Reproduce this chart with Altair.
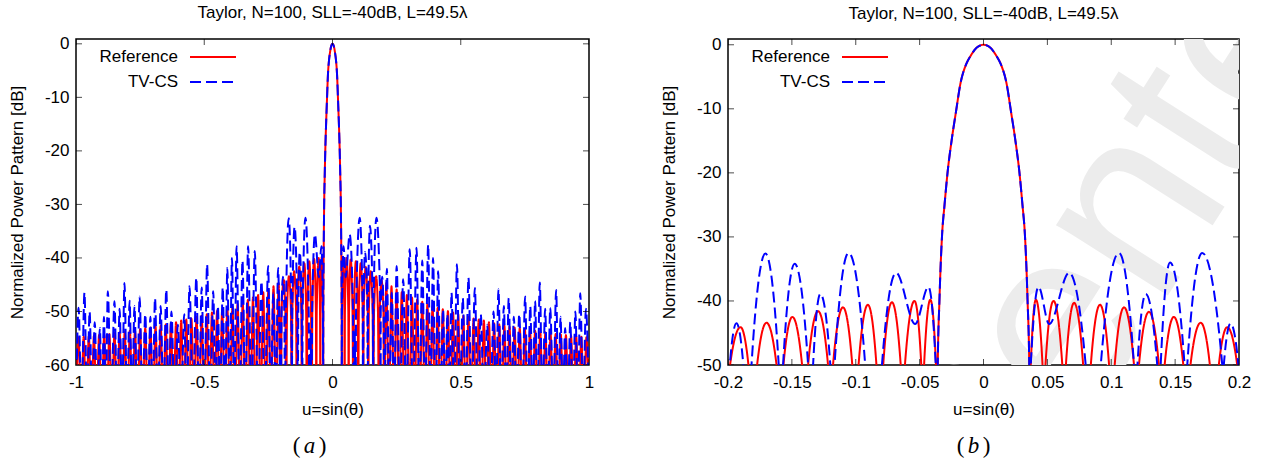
import altair as alt
import pandas as pd

# ---------------------------------------------------------------- data
TITLE = "Taylor, N=100, SLL=-40dB, L=49.5λ"
SERIES = ["Reference", "TV-CS"]
COLORS = ["#ff0000", "#0000ff"]
DASHES = [[1, 0], [11, 5]]
NULL_DB = -68.0  # depth used for pattern nulls (below both plotted ranges)
N = None         # marks a null of the pattern
WATERMARK = "Center"

# main beam (shared by both patterns, they coincide)
MAIN_U = [-0.0358, -0.0345, -0.0324, -0.0305, -0.028, -0.025, -0.0215, -0.018,
          -0.0137, -0.010, -0.005, 0.0, 0.005, 0.010, 0.0137, 0.018, 0.0215,
          0.025, 0.028, 0.0305, 0.0324, 0.0345, 0.0358]
MAIN_DB = [-50.0, -40.0, -29.6, -25.0, -19.7, -15.0, -10.4, -6.0, -3.1, -1.7,
           -0.4, 0.0, -0.4, -1.7, -3.1, -6.0, -10.4, -15.0, -19.7, -25.0, -29.6,
           -40.0, -50.0]

# Reference: near side lobes (|u| < 0.2)
REF_NEAR_R_U = [0.0362, 0.0370, 0.041, 0.0462, 0.0472, 0.0485, 0.0548, 0.0617,
                0.063, 0.0645, 0.0709, 0.0780, 0.081, 0.0840, 0.0912, 0.0983,
                0.1005, 0.1027, 0.110, 0.1178, 0.1198, 0.1217, 0.1295, 0.1373,
                0.1395, 0.1418, 0.149, 0.1564, 0.159, 0.162, 0.170, 0.1772,
                0.1805, 0.1842, 0.1908, 0.1986, 0.2005]
REF_NEAR_R_DB = [N, -50.0, -39.8, -50.0, N, -50.0, -40.0, -50.0,
                 N, -50.0, -40.3, -50.0, N, -50.0, -40.6, -50.0,
                 N, -50.0, -41.0, -50.0, N, -50.0, -41.7, -50.0,
                 N, -50.0, -42.5, -50.0, N, -50.0, -43.4, -50.0,
                 N, -50.0, -44.1, -50.0, N]
REF_NEAR_L_U = [-0.0362, -0.0372, -0.0416, -0.0465, -0.0474, -0.0487, -0.054,
                -0.0615, -0.063, -0.0648, -0.0717, -0.0785, -0.081, -0.0838,
                -0.0905, -0.0978, -0.1005, -0.1027, -0.110, -0.1178, -0.1198,
                -0.1217, -0.1295, -0.1373, -0.1395, -0.1420, -0.1496, -0.1566,
                -0.159, -0.1620, -0.1699, -0.1772, -0.1805, -0.1840, -0.1902,
                -0.1984, -0.2005]
REF_NEAR_L_DB = [N, -50.0, -39.8, -50.0, N, -50.0, -40.0,
                 -50.0, N, -50.0, -40.2, -50.0, N, -50.0,
                 -40.6, -50.0, N, -50.0, -41.0, -50.0, N,
                 -50.0, -41.6, -50.0, N, -50.0, -42.5, -50.0,
                 N, -50.0, -43.4, -50.0, N, -50.0, -44.1,
                 -50.0, N]

# Reference: far side lobes (peaks and nulls)
REF_FAR_R_U = [0.21, 0.23, 0.25, 0.27, 0.29, 0.31, 0.33, 0.35, 0.37, 0.39,
               0.41, 0.43, 0.45, 0.47, 0.49, 0.51, 0.53, 0.55, 0.57, 0.59,
               0.61, 0.63, 0.65, 0.67, 0.69, 0.71, 0.73, 0.75, 0.77, 0.79,
               0.81, 0.83, 0.85, 0.87, 0.89, 0.91, 0.93, 0.95, 0.97, 0.99]
REF_FAR_R_DB = [-44.7, -45.3, -45.9, -46.4, -46.9, -47.4, -47.8, -48.2, -48.6, -49.0,
                -49.3, -49.6, -49.9, -50.2, -50.5, -50.8, -51.0, -51.3, -51.5, -51.7,
                -52.0, -52.2, -52.4, -52.6, -52.8, -53.0, -53.1, -53.3, -53.5, -53.6,
                -53.8, -53.9, -54.0, -54.2, -54.3, -54.4, -54.5, -54.6, -54.7, -54.8]
REF_NULL_R_U = [0.22, 0.24, 0.26, 0.28, 0.30, 0.32, 0.34, 0.36, 0.38, 0.40,
                0.42, 0.44, 0.46, 0.48, 0.50, 0.52, 0.54, 0.56, 0.58, 0.60,
                0.62, 0.64, 0.66, 0.68, 0.70, 0.72, 0.74, 0.76, 0.78, 0.80,
                0.82, 0.84, 0.86, 0.88, 0.90, 0.92, 0.94, 0.96, 0.98, 1.00]
REF_FAR_L_U = [-0.21, -0.23, -0.25, -0.27, -0.29, -0.31, -0.33, -0.35, -0.37, -0.39,
               -0.41, -0.43, -0.45, -0.47, -0.49, -0.51, -0.53, -0.55, -0.57, -0.59,
               -0.61, -0.63, -0.65, -0.67, -0.69, -0.71, -0.73, -0.75, -0.77, -0.79,
               -0.81, -0.83, -0.85, -0.87, -0.89, -0.91, -0.93, -0.95, -0.97, -0.99]
REF_FAR_L_DB = [-44.7, -45.3, -45.9, -46.4, -46.9, -47.4, -47.8, -48.2, -48.6, -49.0,
                -49.3, -49.6, -49.9, -50.2, -50.5, -50.8, -51.0, -51.3, -51.5, -51.7,
                -52.0, -52.2, -52.4, -52.6, -52.8, -53.0, -53.1, -53.3, -53.5, -53.6,
                -53.8, -53.9, -54.0, -54.2, -54.3, -54.4, -54.5, -54.6, -54.7, -54.8]
REF_NULL_L_U = [-0.22, -0.24, -0.26, -0.28, -0.30, -0.32, -0.34, -0.36, -0.38, -0.40,
                -0.42, -0.44, -0.46, -0.48, -0.50, -0.52, -0.54, -0.56, -0.58, -0.60,
                -0.62, -0.64, -0.66, -0.68, -0.70, -0.72, -0.74, -0.76, -0.78, -0.80,
                -0.82, -0.84, -0.86, -0.88, -0.90, -0.92, -0.94, -0.96, -0.98, -1.00]

# TV-CS: near side lobes (|u| < 0.2)
TV_NEAR_R_U = [0.0362, 0.0370, 0.0431, 0.0514, 0.067, 0.0800, 0.0815, 0.0862,
               0.0905, 0.0918, 0.106, 0.1178, 0.119, 0.1205, 0.127, 0.1360,
               0.1373, 0.1387, 0.146, 0.1574, 0.1585, 0.1595, 0.1712, 0.1869,
               0.1875, 0.1881, 0.1934, 0.1995, 0.2015]
TV_NEAR_R_DB = [N, -50.0, -37.8, -43.6, -35.6, -50.0, N, -53.5,
                N, -50.0, -32.5, -50.0, N, -50.0, -38.9, -50.0,
                N, -50.0, -34.0, -50.0, N, -50.0, -32.5, -50.0,
                N, -50.0, -43.5, -50.0, N]
TV_NEAR_L_U = [-0.0362, -0.0374, -0.0431, -0.0535, -0.0684, -0.0795, -0.081, -0.086,
               -0.0905, -0.0926, -0.1056, -0.1166, -0.118, -0.1199, -0.1277, -0.1334,
               -0.1355, -0.1373, -0.1478, -0.1569, -0.1585, -0.1603, -0.1707, -0.1816,
               -0.185, -0.1880, -0.1934, -0.1986, -0.2015]
TV_NEAR_L_DB = [N, -50.0, -37.8, -43.6, -35.6, -50.0, N, -53.5,
                N, -50.0, -32.5, -50.0, N, -50.0, -38.9, -50.0,
                N, -50.0, -34.2, -50.0, N, -50.0, -32.6, -50.0,
                N, -50.0, -43.5, -50.0, N]

# TV-CS: far side lobes (peaks and nulls)
TV_FAR_R_U = [0.212, 0.231, 0.250, 0.2755, 0.301, 0.3275, 0.350, 0.373, 0.392, 0.412,
              0.431, 0.448, 0.464, 0.485, 0.508, 0.530, 0.555, 0.578, 0.603, 0.628,
              0.647, 0.668, 0.687, 0.707, 0.728, 0.751, 0.771, 0.790, 0.808, 0.829,
              0.849, 0.872, 0.889, 0.907, 0.927, 0.947, 0.966, 0.988]
TV_FAR_R_DB = [-42.0, -46.5, -41.5, -44.0, -38.4, -38.1, -40.5, -37.5, -40.0, -42.5,
               -49.6, -50.5, -46.5, -41.2, -47.5, -43.7, -45.6, -50.5, -52.5, -50.0,
               -45.8, -49.0, -47.5, -51.0, -50.5, -47.2, -49.0, -48.0, -44.6, -49.5,
               -49.3, -46.0, -51.0, -53.1, -52.0, -50.0, -46.6, -49.5]
TV_NULL_R_U = [0.2215, 0.2405, 0.263, 0.288, 0.314, 0.339, 0.361, 0.3825, 0.402, 0.4215,
               0.4395, 0.456, 0.4745, 0.4965, 0.519, 0.5425, 0.5665, 0.5905, 0.6155, 0.6375,
               0.6575, 0.6775, 0.697, 0.7175, 0.7395, 0.761, 0.7805, 0.799, 0.8185, 0.839,
               0.8605, 0.8805, 0.898, 0.917, 0.937, 0.9565, 0.977, 1.000]
TV_FAR_L_U = [-0.212, -0.231, -0.251, -0.277, -0.303, -0.329, -0.351, -0.374, -0.392, -0.410,
              -0.428, -0.447, -0.465, -0.489, -0.510, -0.531, -0.5575, -0.578, -0.603, -0.628,
              -0.648, -0.670, -0.692, -0.710, -0.730, -0.752, -0.772, -0.791, -0.811, -0.830,
              -0.850, -0.876, -0.891, -0.907, -0.927, -0.947, -0.967, -0.990]
TV_FAR_L_DB = [-41.9, -46.5, -41.5, -44.4, -38.7, -37.8, -40.5, -37.8, -40.0, -41.9,
               -45.5, -49.0, -46.2, -41.2, -45.5, -43.7, -45.3, -50.5, -52.5, -50.0,
               -45.9, -49.0, -47.5, -51.0, -50.5, -47.2, -49.0, -48.0, -44.7, -49.5,
               -48.1, -46.2, -51.0, -53.1, -52.0, -50.0, -46.5, -49.3]
TV_NULL_L_U = [-0.2215, -0.241, -0.264, -0.290, -0.316, -0.340, -0.362, -0.383, -0.401, -0.419,
               -0.4375, -0.456, -0.477, -0.4995, -0.5205, -0.544, -0.568, -0.5905, -0.6155, -0.638,
               -0.659, -0.681, -0.701, -0.720, -0.741, -0.762, -0.7815, -0.801, -0.8205, -0.840,
               -0.863, -0.8835, -0.899, -0.917, -0.937, -0.957, -0.9785, -1.000]

# axes
A_XDOM, A_YDOM = [-1.0, 1.0], [-60.0, 0.9]
B_XDOM, B_YDOM = [-0.2, 0.2], [-50.0, 0.9]
A_XTICKS = [-1, -0.5, 0, 0.5, 1]
A_YTICKS = [-60, -50, -40, -30, -20, -10, 0]
B_XTICKS = [-0.2, -0.15, -0.1, -0.05, 0, 0.05, 0.1, 0.15, 0.2]
B_YTICKS = [-50, -40, -30, -20, -10, 0]
X_TITLE = "u=sin(θ)"
Y_TITLE = "Normalized Power Pattern [dB]"
CAPTION_LETTERS = ["a", "b"]

FONT = "Liberation Sans"
SERIF = "Liberation Serif"
FS = 17


def build(name, parts):
    rows = []
    for us, dbs in parts:
        if dbs is None:
            dbs = [N] * len(us)
        for u, d in zip(us, dbs):
            rows.append({"u": u, "db": NULL_DB if d is None else d, "series": name})
    return pd.DataFrame(rows).sort_values("u").reset_index(drop=True)


ref = build("Reference", [(MAIN_U, MAIN_DB), (REF_NEAR_R_U, REF_NEAR_R_DB),
                          (REF_NEAR_L_U, REF_NEAR_L_DB), (REF_FAR_R_U, REF_FAR_R_DB),
                          (REF_FAR_L_U, REF_FAR_L_DB), (REF_NULL_R_U, None),
                          (REF_NULL_L_U, None)])
tv = build("TV-CS", [(MAIN_U, MAIN_DB), (TV_NEAR_R_U, TV_NEAR_R_DB),
                     (TV_NEAR_L_U, TV_NEAR_L_DB), (TV_FAR_R_U, TV_FAR_R_DB),
                     (TV_FAR_L_U, TV_FAR_L_DB), (TV_NULL_R_U, None),
                     (TV_NULL_L_U, None)])


def text_layer(label, x, y, font, size, style="normal", align="center",
               color="black", angle=0, clip=False):
    one = pd.DataFrame({"label": [label]})
    return alt.Chart(one).mark_text(align=align, baseline="middle", font=font,
                                    fontSize=size, fontStyle=style, angle=angle,
                                    clip=clip, color=color).encode(
        text="label:N", x=alt.value(x), y=alt.value(y))


def panel(xdom, ydom, xticks, yticks, letter, width, height, xlim, cap_dx,
          watermark=False):
    xs = alt.Scale(domain=xdom, nice=False, zero=False)
    ys = alt.Scale(domain=ydom, nice=False, zero=False)
    x_axis = alt.Axis(values=xticks, title=X_TITLE, ticks=False, tickSize=0,
                      domain=False, grid=False, labelExpr="'' + datum.value",
                      labelFlush=False, labelOverlap=False, labelPadding=9,
                      labelFont=FONT, labelFontSize=FS, labelColor="black",
                      titleFont=FONT, titleFontSize=FS, titleFontWeight="normal",
                      titleColor="black", titleBaseline="alphabetic",
                      titleY=49, titleX=width / 2)
    y_axis = alt.Axis(values=yticks, title=Y_TITLE, ticks=False, tickSize=0,
                      domain=False, grid=False, labelExpr="'' + datum.value",
                      labelFlush=False, labelOverlap=False, labelPadding=7,
                      labelFont=FONT, labelFontSize=FS, labelColor="black",
                      titleFont=FONT, titleFontSize=FS, titleFontWeight="normal",
                      titleColor="black", titleBaseline="middle", titleAngle=270,
                      titleX=-59, titleY=height / 2)

    def xy():
        return dict(x=alt.X("u:Q", scale=xs, axis=x_axis),
                    y=alt.Y("db:Q", scale=ys, axis=y_axis))

    layers = []
    if watermark:
        # faint publisher watermark that crosses the right-hand panel
        layers.append(text_layer(WATERMARK, 397, 184, FONT, 250, color="#ececec",
                                 angle=302.5, clip=True))

    for i, df in enumerate([ref, tv]):
        d = df[(df.u >= -xlim) & (df.u <= xlim)]
        layers.append(
            alt.Chart(d).mark_line(clip=True, interpolate="monotone",
                                   color=COLORS[i], strokeWidth=2,
                                   strokeDash=DASHES[i]).encode(**xy())
        )

    # inward ticks on all four sides
    nx, ny = len(xticks), len(yticks)
    xt = pd.DataFrame({"u": xticks * 2, "db": [ydom[0]] * nx + [ydom[1]] * nx})
    yt = pd.DataFrame({"u": [xdom[0]] * ny + [xdom[1]] * ny, "db": yticks * 2})
    layers.append(alt.Chart(xt).mark_tick(orient="vertical", size=12, thickness=1,
                                          color="black", clip=True).encode(**xy()))
    layers.append(alt.Chart(yt).mark_tick(orient="horizontal", size=12, thickness=1,
                                          color="black", clip=True).encode(**xy()))

    # key (text left of the sample line, as in the original)
    for i, name in enumerate(SERIES):
        one = pd.DataFrame({"label": [name]})
        ypix = 18 + 25 * i
        layers.append(text_layer(name, 102, ypix, FONT, FS, align="right"))
        layers.append(alt.Chart(one).mark_rule(color=COLORS[i], strokeWidth=2,
                                               strokeDash=DASHES[i]).encode(
            x=alt.value(114), x2=alt.value(160), y=alt.value(ypix)))

    # caption "(a)" / "(b)": upright parentheses, italic letter
    cx = width / 2 + cap_dx
    cy = 407
    layers.append(text_layer("(", cx - 13, cy, SERIF, 23))
    layers.append(text_layer(letter, cx, cy, SERIF, 23, style="italic"))
    layers.append(text_layer(")", cx + 13, cy, SERIF, 23))

    return alt.layer(*layers).properties(
        width=width, height=height,
        title=alt.Title(TITLE, font=FONT, fontSize=FS, fontWeight="normal",
                        color="black", offset=13),
    )


pa = panel(A_XDOM, A_YDOM, A_XTICKS, A_YTICKS, CAPTION_LETTERS[0], 513, 326, 1.0, -23)
pb = panel(B_XDOM, B_YDOM, B_XTICKS, B_YTICKS, CAPTION_LETTERS[1], 511, 326, 0.22, -10,
           watermark=True)

chart = alt.hconcat(pa, pb, spacing=64).properties(
    padding={"left": 7, "top": 3, "right": 5, "bottom": 0},
    background="white",
).configure_view(stroke="black", strokeWidth=1.5)

chart.save("out.html", embed_options={"renderer": "svg", "actions": False})
